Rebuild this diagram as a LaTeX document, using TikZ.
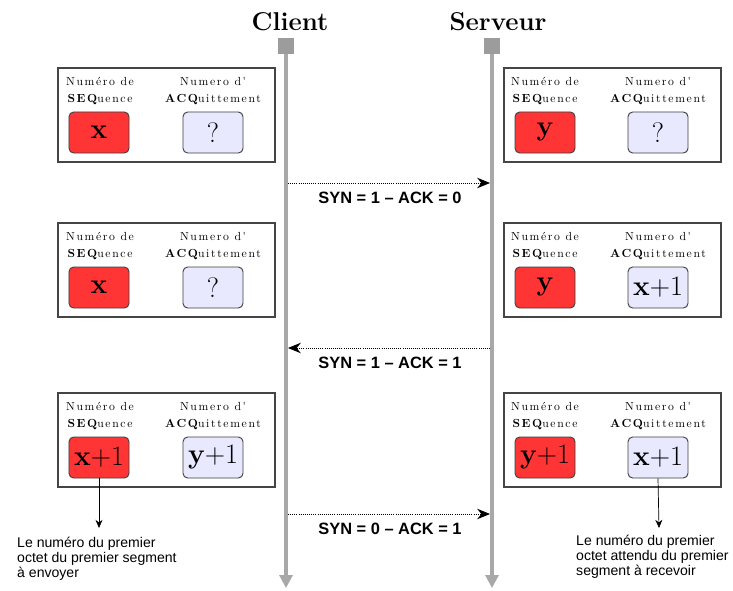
\documentclass[tikz,border=0pt]{standalone}
\usepackage{fontspec}
\newfontfamily\sansf{Liberation Sans}
\newfontfamily\lblfont{Latin Modern Roman}[LetterSpace=14]
\usetikzlibrary{arrows.meta}
\definecolor{linegrey}{HTML}{A8A8A8}
\definecolor{sqgrey}{HTML}{9C9C9C}
\definecolor{seqred}{HTML}{FF3535}
\definecolor{ackblue}{HTML}{E8E8FF}
\definecolor{framecol}{HTML}{454545}
\begin{document}
\begin{tikzpicture}[x=0.03cm,y=-0.03cm,
  outer/.style={draw=framecol, line width=0.9pt, fill=white, minimum width=6.51cm, minimum height=2.82cm, inner sep=0pt},
  seqbox/.style={draw=black!75, line width=0.8pt, fill=seqred, rounded corners=4pt, minimum width=1.8cm, minimum height=1.23cm, inner sep=0pt, font=\fontsize{24}{26}\selectfont},
  ackbox/.style={seqbox, fill=ackblue},
  head/.style={align=center, inner sep=0pt, font=\lblfont\fontsize{10}{14.5}\selectfont},
  title/.style={inner sep=0pt, font=\bfseries\fontsize{22}{24}\selectfont},
  sq/.style={fill=sqgrey, minimum size=0.48cm, inner sep=0pt},
  timeline/.style={draw=linegrey, line width=2.6pt, -{Triangle[length=11pt,width=11pt]}},
  msg/.style={black, densely dotted, line width=0.8pt, -{Stealth[length=11pt,width=9pt]}},
  syn/.style={inner sep=0pt, font=\sansf\bfseries\fontsize{14}{16}\selectfont},
  note/.style={black, line width=0.6pt, -{Stealth[length=7pt,width=6pt]}},
  notetext/.style={align=left, inner sep=0pt, font=\sansf\fontsize{12}{12.8}\selectfont},
]
\useasboundingbox (0,0) rectangle (733,590);
\fill[white] (0,0) rectangle (733,590);

% titles and time lines
\node[title] (client) at (290,22) {Client};
\node[title] (serveur) at (498,22) {Serveur};
\node[sq] (csq) at (286,46) {};
\node[sq] (ssq) at (492,46) {};
\coordinate (cend) at (286,588);
\coordinate (send) at (492,588);
\draw[timeline] (csq.south) -- (cend);
\draw[timeline] (ssq.south) -- (send);

% ---------- row 1 ----------
\node[outer] (lb1) at (166.5,115) {};
\node[head] (lh1a) at (100,91) {Numéro de\\{\bfseries SEQ}uence};
\node[head] (lh1b) at (213,91) {Numero d'\\{\bfseries ACQ}uittement};
\node[seqbox] (lseq1) at (99,132.5) {\textbf{x}};
\node[ackbox] (lack1) at (213,132.5) {?};

\node[outer] (rb1) at (612.5,115) {};
\node[head] (rh1a) at (545,91) {Numéro de\\{\bfseries SEQ}uence};
\node[head] (rh1b) at (658,91) {Numero d'\\{\bfseries ACQ}uittement};
\node[seqbox] (rseq1) at (545,132.5) {\textbf{y}};
\node[ackbox] (rack1) at (658,132.5) {?};

% ---------- row 2 ----------
\node[outer] (lb2) at (166.5,270) {};
\node[head] (lh2a) at (100,246) {Numéro de\\{\bfseries SEQ}uence};
\node[head] (lh2b) at (213,246) {Numero d'\\{\bfseries ACQ}uittement};
\node[seqbox] (lseq2) at (99,287.5) {\textbf{x}};
\node[ackbox] (lack2) at (213,287.5) {?};

\node[outer] (rb2) at (612.5,270) {};
\node[head] (rh2a) at (545,246) {Numéro de\\{\bfseries SEQ}uence};
\node[head] (rh2b) at (658,246) {Numero d'\\{\bfseries ACQ}uittement};
\node[seqbox] (rseq2) at (545,287.5) {\textbf{y}};
\node[ackbox] (rack2) at (658,287.5) {\textbf{x}+1};

% ---------- row 3 ----------
\node[outer] (lb3) at (166.5,440) {};
\node[head] (lh3a) at (100,416) {Numéro de\\{\bfseries SEQ}uence};
\node[head] (lh3b) at (213,416) {Numero d'\\{\bfseries ACQ}uittement};
\node[seqbox] (lseq3) at (99,457.5) {\textbf{x}+1};
\node[ackbox] (lack3) at (213,457.5) {\textbf{y}+1};

\node[outer] (rb3) at (612.5,440) {};
\node[head] (rh3a) at (545,416) {Numéro de\\{\bfseries SEQ}uence};
\node[head] (rh3b) at (658,416) {Numero d'\\{\bfseries ACQ}uittement};
\node[seqbox] (rseq3) at (545,457.5) {\textbf{y}+1};
\node[ackbox] (rack3) at (658,457.5) {\textbf{x}+1};

% ---------- messages ----------
\coordinate (c1) at (288,183);
\coordinate (s1) at (490,183);
\draw[msg] (c1) -- (s1);
\node[syn] (m1) at (390,198) {SYN = 1 – ACK = 0};

\coordinate (s2) at (490,348);
\coordinate (c2) at (288,348);
\draw[msg] (s2) -- (c2);
\node[syn] (m2) at (390,363) {SYN = 1 – ACK = 1};

\coordinate (c3) at (288,514);
\coordinate (s3) at (490,514);
\draw[msg] (c3) -- (s3);
\node[syn] (m3) at (390,529) {SYN = 0 – ACK = 1};

% ---------- notes ----------
\coordinate (n1) at (99,528);
\draw[note] (lseq3.south) -- (n1);
\node[notetext, anchor=north west] (t1) at (17,537) {Le numéro du premier\\octet du premier segment\\à envoyer};

\coordinate (n2) at (659,528);
\draw[note] (rack3.south) -- (n2);
\node[notetext, anchor=north west] (t2) at (576,535) {Le numéro du premier\\octet attendu du premier\\segment à recevoir};
\end{tikzpicture}
\end{document}
